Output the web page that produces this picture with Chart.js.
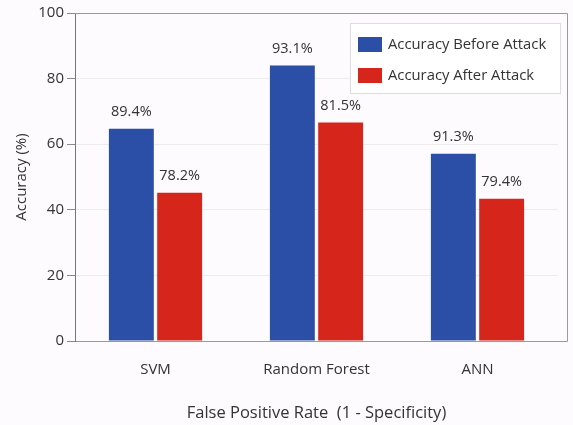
<!DOCTYPE html>
<html>
<head>
<meta charset="utf-8">
<script src="https://cdn.jsdelivr.net/npm/chart.js@4/dist/chart.umd.min.js"></script>
<style>
  html, body { margin: 0; padding: 0; background: #fdfbfd; }
  #wrap { width: 573px; height: 425px; position: relative; }
</style>
</head>
<body>
<div id="wrap"><canvas id="c" width="573" height="425"></canvas></div>
<script>
const categories = ['SVM', 'Random Forest', 'ANN'];
const seriesNames = ['Accuracy Before Attack', 'Accuracy After Attack'];
const beforeValues = [64.7, 84.0, 57.1];
const afterValues = [45.2, 66.6, 43.4];
const beforeLabels = ['89.4%', '93.1%', '91.3%'];
const afterLabels = ['78.2%', '81.5%', '79.4%'];
const yTicks = [0, 20, 40, 60, 80, 100];

const BLUE = '#2b4ea6';
const RED = '#d6261c';
const FONT = "'Open Sans', sans-serif";
const TEXT = '#333333';

const valueLabels = [beforeLabels, afterLabels];

const framePlugin = {
  id: 'frame',
  afterDatasetsDraw(chart) {
    const ctx = chart.ctx;
    const a = chart.chartArea;
    const frameRight = a.right + 9;
    ctx.save();
    ctx.strokeStyle = '#9a9a9a';
    ctx.lineWidth = 1;
    ctx.beginPath();
    ctx.moveTo(a.left, a.top + 0.5);
    ctx.lineTo(frameRight + 0.5, a.top + 0.5);
    ctx.lineTo(frameRight + 0.5, a.bottom + 0.5);
    ctx.lineTo(a.right, a.bottom + 0.5);
    ctx.stroke();
    // value labels
    ctx.font = '14.5px ' + FONT;
    ctx.fillStyle = TEXT;
    ctx.textAlign = 'center';
    ctx.textBaseline = 'middle';
    chart.data.datasets.forEach((ds, di) => {
      const meta = chart.getDatasetMeta(di);
      meta.data.forEach((bar, i) => {
        ctx.fillText(valueLabels[di][i], bar.x, bar.y - 17);
      });
    });
    // legend
    const lx = 350, ly = 23, lw = 210, lh = 70;
    ctx.fillStyle = '#ffffff';
    ctx.fillRect(lx, ly, lw, lh);
    ctx.strokeStyle = '#dddddd';
    ctx.strokeRect(lx + 0.5, ly + 0.5, lw, lh);
    ctx.font = '14.8px ' + FONT;
    ctx.textAlign = 'left';
    chart.data.datasets.forEach((ds, di) => {
      const sy = 37 + di * 31;
      ctx.fillStyle = ds.backgroundColor;
      ctx.fillRect(358, sy, 24, 15);
      ctx.fillStyle = TEXT;
      ctx.fillText(ds.label, 388, sy + 7.5);
    });
    ctx.restore();
  }
};

new Chart(document.getElementById('c'), {
  type: 'bar',
  data: {
    labels: categories,
    datasets: [
      { label: seriesNames[0], data: beforeValues, backgroundColor: BLUE },
      { label: seriesNames[1], data: afterValues, backgroundColor: RED }
    ]
  },
  options: {
    responsive: false,
    animation: false,
    devicePixelRatio: 1,
    layout: { padding: { top: 13, right: 15, left: 0, bottom: 0 } },
    datasets: { bar: { categoryPercentage: 0.6, barPercentage: 0.93 } },
    plugins: { legend: { display: false }, tooltip: { enabled: false } },
    scales: {
      x: {
        grid: { display: false, drawTicks: false },
        border: { color: '#9a9a9a' },
        ticks: { color: TEXT, font: { family: FONT, size: 15 }, padding: 20 },
        title: { display: true, text: 'False Positive Rate  (1 - Specificity)', color: TEXT,
                 font: { family: FONT, size: 16.5 }, padding: { top: 4, bottom: 2 } },
        afterFit(scale) { scale.height = 84; }
      },
      y: {
        min: 0, max: 100,
        afterBuildTicks(scale) { scale.ticks = yTicks.map(v => ({ value: v })); },
        grid: { color: '#ececec', tickColor: '#8a8a8a', tickLength: 8 },
        border: { color: '#777777' },
        ticks: { color: TEXT, font: { family: FONT, size: 15 }, padding: 3 },
        title: { display: true, text: 'Accuracy (%)', color: TEXT,
                 font: { family: FONT, size: 15 }, padding: { top: 13, bottom: 4 } },
        afterFit(scale) { scale.width = 75; }
      }
    }
  },
  plugins: [framePlugin]
});
</script>
</body>
</html>
